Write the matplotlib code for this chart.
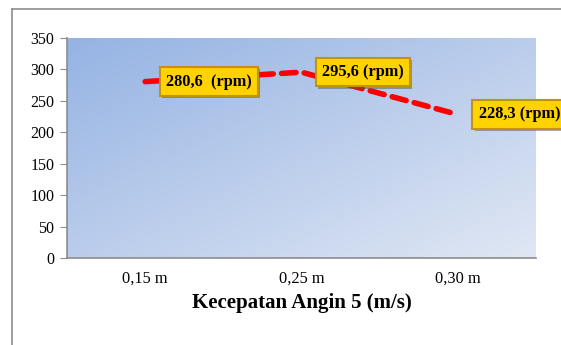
import numpy as np
import matplotlib
matplotlib.use("Agg")
import matplotlib.pyplot as plt
import matplotlib.patheffects as pe

categories = ["0,15 m", "0,25 m", "0,30 m"]
rpm_values = [280.6, 295.6, 228.3]
point_labels = ["280,6  (rpm)", "295,6 (rpm)", "228,3 (rpm)"]
y_ticks = [0, 50, 100, 150, 200, 250, 300, 350]
x_title = "Kecepatan Angin 5 (m/s)"

plt.rcParams['font.family'] = ['Liberation Serif', 'DejaVu Serif']

W, H = 561, 345
fig = plt.figure(figsize=(W/100, H/100), dpi=100)
fig.patch.set_facecolor('white')

# outer chart border (partially cropped)
fig.add_artist(plt.Line2D([12/W, 12/W], [0, 1 - 9/H], color='#8c8c8c', lw=1.2))
fig.add_artist(plt.Line2D([12/W, 1], [1 - 9/H, 1 - 9/H], color='#8c8c8c', lw=1.2))

left, right, top, bottom = 67, 536, 38, 258
ax = fig.add_axes([left/W, 1 - bottom/H, (right-left)/W, (bottom-top)/H])

x = np.arange(len(categories))
ax.set_xlim(-0.5, len(categories) - 0.5)
ax.set_ylim(0, 350)

# gradient background: darker top-left, lighter bottom-right
ny, nx = 100, 100
gx, gy = np.meshgrid(np.linspace(0, 1, nx), np.linspace(0, 1, ny))
t = (gx + gy) / 2.0
c0 = np.array([0x95, 0xb3, 0xe3]) / 255.0
c1 = np.array([0xe0, 0xe7, 0xf4]) / 255.0
img = c0[None, None, :] * (1 - t[..., None]) + c1[None, None, :] * t[..., None]
ax.imshow(img, extent=[-0.5, len(categories) - 0.5, 0, 350], origin='upper',
          aspect='auto', zorder=0)

ax.plot(x, rpm_values, color='#ff0000', lw=4, ls=(0, (2.6, 1.5)),
        solid_capstyle='round', dash_capstyle='round', zorder=2)

for xi, v, lab in zip(x, rpm_values, point_labels):
    t_ = ax.annotate(lab, xy=(xi, v), xytext=(15, 0), textcoords='offset points',
                     ha='left', va='center', fontsize=11.8, fontweight='bold',
                     color='black', zorder=5,
                     bbox=dict(boxstyle='square,pad=0.38', fc='#ffd200',
                               ec='#c09410', lw=1.5))
    t_.get_bbox_patch().set_path_effects([
        pe.SimplePatchShadow(offset=(1.5, -1.5), shadow_rgbFace='#555555', alpha=0.5),
        pe.Normal()])

ax.set_yticks(y_ticks)
ax.set_xticks(x)
ax.set_xticklabels(categories)
ax.tick_params(axis='y', labelsize=11.5, length=5, color='#8c8c8c', direction='out', pad=4)
ax.tick_params(axis='x', labelsize=11.8, length=0, pad=9)
for s in ['top', 'right']:
    ax.spines[s].set_visible(False)
for s in ['left', 'bottom']:
    ax.spines[s].set_color('#8c8c8c')
    ax.spines[s].set_linewidth(1.2)

ax.set_xlabel(x_title, fontsize=15, fontweight='bold', labelpad=5)

fig.savefig('out.png', dpi=100)
